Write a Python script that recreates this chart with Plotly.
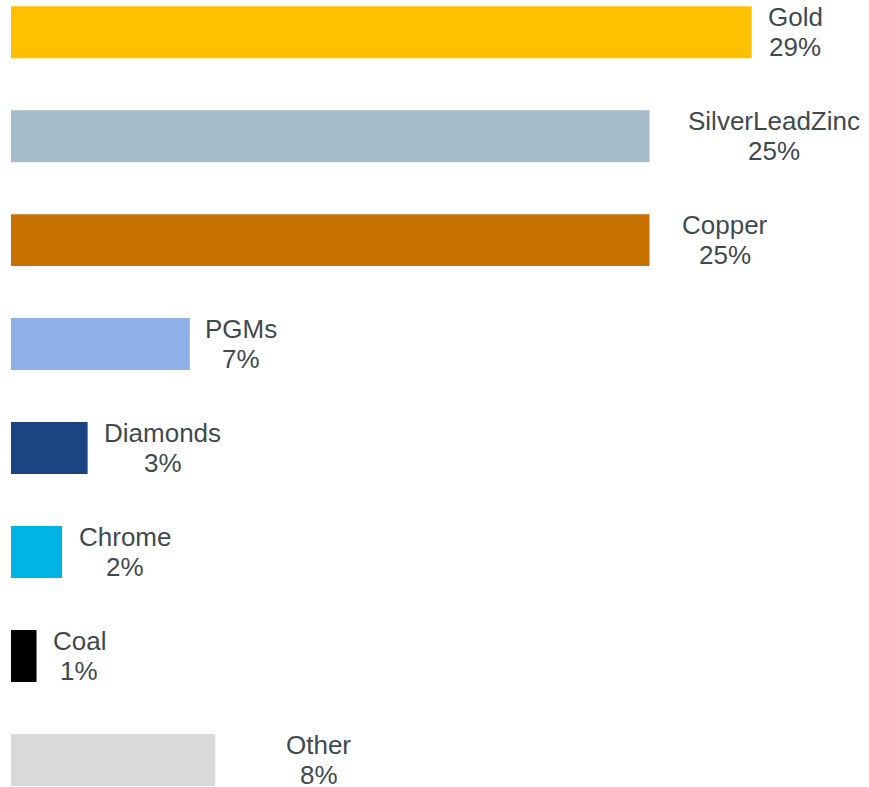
import plotly.graph_objects as go

# Share of output by commodity (%)
commodities = ["Gold", "SilverLeadZinc", "Copper", "PGMs", "Diamonds", "Chrome", "Coal", "Other"]
shares = [29, 25, 25, 7, 3, 2, 1, 8]
value_labels = ["29%", "25%", "25%", "7%", "3%", "2%", "1%", "8%"]

bar_colors = ["#FFC000", "#A6BBCA", "#C87103", "#8EB0E6", "#1C4482", "#00B5E6", "#000000", "#D9D9D9"]

# Horizontal distance (px) from a bar's end to the centre of its label block
label_center_px = {
    "Gold": 43.5, "SilverLeadZinc": 124.7, "Copper": 75.7, "PGMs": 51.3,
    "Diamonds": 75.0, "Chrome": 62.7, "Coal": 42.5, "Other": 103.5,
}

text_color = "#3F4A4F"
font_family = "Liberation Sans, Arial, sans-serif"

fig = go.Figure(
    go.Bar(
        x=shares,
        y=commodities,
        orientation="h",
        width=0.5,
        marker=dict(color=bar_colors, line=dict(width=0)),
        hoverinfo="skip",
    )
)

annotations = []
for name, val, lab in zip(commodities, shares, value_labels):
    dx = label_center_px[name]
    annotations.append(dict(
        x=val, y=name, xref="x", yref="y", text=name, showarrow=False,
        xanchor="center", yanchor="middle", xshift=dx, yshift=15,
        font=dict(family=font_family, size=26, color=text_color),
    ))
    annotations.append(dict(
        x=val, y=name, xref="x", yref="y", text=lab, showarrow=False,
        xanchor="center", yanchor="middle", xshift=dx, yshift=-15,
        font=dict(family=font_family, size=26, color=text_color),
    ))

fig.update_layout(
    width=869,
    height=787,
    margin=dict(l=0, r=0, t=0, b=0, pad=0),
    paper_bgcolor="white",
    plot_bgcolor="white",
    showlegend=False,
    annotations=annotations,
    xaxis=dict(range=[-0.4307, 33.594], visible=False, fixedrange=True),
    yaxis=dict(range=[7.2605, -0.3097], visible=False, type="category", fixedrange=True),
)

fig.write_html("out.html", config={"displayModeBar": False})
